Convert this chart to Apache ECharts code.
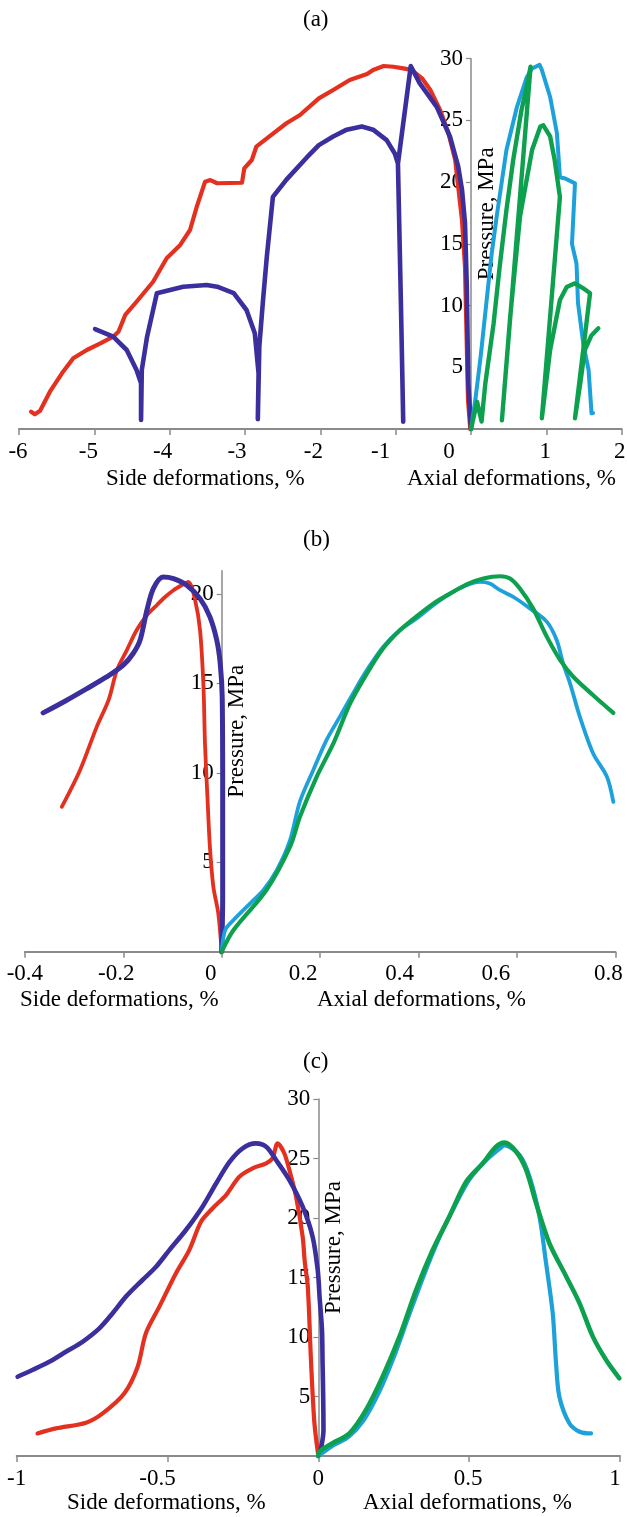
<!DOCTYPE html>
<html>
<head>
<meta charset="utf-8">
<script src="https://cdn.jsdelivr.net/npm/echarts@6/dist/echarts.min.js"></script>
<style>html,body{margin:0;padding:0;background:#fff}#c{width:627px;height:1517px}</style>
</head>
<body>
<div id="c"></div>
<script>
// ---------- DATA ----------
// Panel (a)
const aSideRed = [[-0.01,0],[-0.04,2.35],[-0.06,7.78],[-0.08,13.15],[-0.12,16.93],[-0.17,19.63],[-0.21,21.79],[-0.30,23.96],[-0.41,25.84],[-0.54,27.47],[-0.65,28.41],[-0.79,29.09],[-0.90,29.22],[-1.03,29.35],[-1.16,29.41],[-1.30,29.09],[-1.38,28.76],[-1.61,28.28],[-1.83,27.47],[-2.02,26.79],[-2.27,25.44],[-2.45,24.77],[-2.71,23.55],[-2.85,22.87],[-2.91,21.79],[-3.01,21.12],[-3.04,19.95],[-3.37,19.91],[-3.46,20.17],[-3.53,20.04],[-3.64,18.01],[-3.73,16.12],[-3.86,14.91],[-4.04,13.83],[-4.22,11.93],[-4.44,10.31],[-4.59,9.24],[-4.68,7.88],[-4.75,7.48],[-4.92,6.94],[-5.10,6.40],[-5.28,5.73],[-5.43,4.51],[-5.59,3.02],[-5.72,1.48],[-5.79,1.19],[-5.84,1.40]];
const aSideBlue = [[0,0],[-0.036,3.7],[-0.057,11.8],[-0.08,16.7],[-0.12,19.4],[-0.17,21.25],[-0.28,23.7],[-0.455,26.1],[-0.68,28.0],[-0.80,29.4],[-0.97,21.5],[-0.93,10],[-0.90,0.6],[-0.93,10],[-0.97,21.5],[-1.01,22.3],[-1.12,23.4],[-1.30,24.25],[-1.45,24.5],[-1.65,24.25],[-1.83,23.7],[-2.02,23.0],[-2.18,22.0],[-2.45,20.2],[-2.63,18.8],[-2.71,14],[-2.76,10.5],[-2.81,6.7],[-2.83,0.8],[-2.82,4.5],[-2.87,7.75],[-2.98,9.64],[-3.15,11.0],[-3.37,11.53],[-3.51,11.67],[-3.82,11.53],[-4.17,11.0],[-4.30,7.48],[-4.37,4.78],[-4.38,0.73],[-4.38,3.7],[-4.44,4.78],[-4.57,6.4],[-4.75,7.48],[-4.99,8.1]];
const aAxialLightBlue = [[0,0],[0.06,2.5],[0.13,6],[0.2,10],[0.27,14],[0.34,17.2],[0.47,22.6],[0.61,26.1],[0.74,28.5],[0.81,29.2],[0.91,29.5],[0.94,29.1],[1.05,26.9],[1.14,23.96],[1.18,20.4],[1.25,20.3],[1.38,19.9],[1.34,15.0],[1.40,13.4],[1.42,10.2],[1.49,6.9],[1.56,4.8],[1.60,1.27],[1.62,1.3]];
const aAxialGreen = [[0,0],[0.08,2.2],[0.14,0.6],[0.19,3.7],[0.30,8.56],[0.38,13.15],[0.47,17.74],[0.56,21.8],[0.67,25.85],[0.74,27.7],[0.79,29.35],[0.41,0.7],[0.52,9.1],[0.65,17.2],[0.81,22.6],[0.92,24.5],[0.96,24.6],[1.05,23.7],[1.11,21.8],[1.18,18.8],[0.94,0.87],[1.05,6.4],[1.18,10.45],[1.27,11.5],[1.38,11.8],[1.49,11.4],[1.58,11.0],[1.38,0.87],[1.45,3.7],[1.51,6.4],[1.60,7.6],[1.69,8.16]];

// Panel (b)
const bSideRed = [[0,0],[-0.007,2.15],[-0.017,3.63],[-0.024,5.87],[-0.029,8.66],[-0.034,11.64],[-0.037,14.8],[-0.044,17.97],[-0.054,19.65],[-0.068,20.67],[-0.081,20.49],[-0.098,20.21],[-0.115,19.83],[-0.132,19.37],[-0.152,18.81],[-0.173,17.97],[-0.193,16.85],[-0.213,15.74],[-0.23,14.06],[-0.254,12.57],[-0.288,10.15],[-0.325,8.1]];
const bSideBlue = [[0,0],[0.002,3.07],[0.002,9],[0.001,14.25],[-0.003,16.11],[-0.01,17.41],[-0.024,18.72],[-0.044,19.74],[-0.071,20.49],[-0.098,20.86],[-0.119,20.95],[-0.139,20.3],[-0.152,19.09],[-0.166,17.41],[-0.18,16.67],[-0.2,16.02],[-0.234,15.36],[-0.274,14.71],[-0.315,14.06],[-0.363,13.35]];
const bAxialLightBlue = [[0,0],[0.007,1.21],[0.024,1.77],[0.058,2.7],[0.085,3.45],[0.112,4.56],[0.139,6.24],[0.159,8.4],[0.186,10.15],[0.213,11.83],[0.24,13.13],[0.267,14.44],[0.295,15.74],[0.328,17.04],[0.362,17.97],[0.396,18.63],[0.43,19.37],[0.464,20.02],[0.498,20.49],[0.525,20.67],[0.545,20.58],[0.566,20.21],[0.593,19.83],[0.627,19.18],[0.661,18.44],[0.681,17.41],[0.694,16.11],[0.708,15.0],[0.728,13.13],[0.755,11.08],[0.783,9.78],[0.796,8.38]];
const bAxialGreen = [[0,0],[0.024,1.21],[0.091,3.45],[0.139,5.87],[0.159,7.54],[0.193,9.78],[0.227,11.64],[0.261,13.88],[0.295,15.55],[0.328,16.95],[0.362,17.97],[0.396,18.75],[0.43,19.46],[0.464,20.02],[0.498,20.54],[0.532,20.86],[0.566,20.99],[0.586,20.86],[0.606,20.3],[0.633,19.18],[0.661,17.6],[0.688,16.3],[0.715,15.36],[0.755,14.34],[0.796,13.35]];

// Panel (c)
const cSideRed = [[0,0],[-0.013,2.75],[-0.024,7.79],[-0.035,14.23],[-0.045,16.3],[-0.052,18.43],[-0.074,21.79],[-0.096,24.03],[-0.113,25.44],[-0.135,26.27],[-0.152,25.02],[-0.173,24.6],[-0.218,24.18],[-0.262,23.47],[-0.306,21.93],[-0.351,20.8],[-0.389,19.69],[-0.428,17.3],[-0.472,15.35],[-0.527,12.55],[-0.572,10.3],[-0.599,7.5],[-0.643,5.27],[-0.715,3.58],[-0.77,2.8],[-0.87,2.32],[-0.931,1.9]];
const cSideBlue = [[0,0],[0.01,0.8],[0.017,2.2],[0.016,5],[0.014,7.8],[0.012,10.6],[0.004,13.4],[-0.002,15.6],[-0.019,18.43],[-0.052,20.95],[-0.096,23.19],[-0.14,24.87],[-0.173,25.99],[-0.207,26.27],[-0.251,25.86],[-0.295,24.7],[-0.339,22.9],[-0.384,20.95],[-0.439,18.99],[-0.494,17.3],[-0.538,15.9],[-0.583,14.79],[-0.638,13.39],[-0.682,11.99],[-0.726,10.73],[-0.782,9.6],[-0.837,8.76],[-0.892,7.92],[-0.948,7.23],[-0.997,6.66]];
const cAxialLightBlue = [[0,0],[0.05,0.9],[0.1,1.6],[0.15,3.0],[0.2,5.3],[0.25,8.3],[0.3,11.8],[0.35,15.2],[0.4,18.3],[0.45,20.9],[0.5,23.2],[0.55,24.7],[0.6,25.8],[0.617,26.1],[0.667,25.29],[0.7,23.47],[0.733,20.11],[0.755,16.19],[0.777,11.99],[0.788,7.79],[0.799,4.98],[0.832,2.75],[0.866,2.04],[0.904,1.9]];
const cAxialGreen = [[0,0],[0.003,0.36],[0.047,1.07],[0.103,1.9],[0.158,3.87],[0.213,6.66],[0.269,10.03],[0.324,13.95],[0.379,17.31],[0.434,20.11],[0.49,23.05],[0.545,24.6],[0.589,25.99],[0.617,26.33],[0.656,25.57],[0.689,24.03],[0.722,21.23],[0.766,17.87],[0.822,15.07],[0.866,12.83],[0.91,10.03],[0.954,8.07],[0.998,6.53]];

// axis ranges / tick labels
const panelTitles = ['(a)', '(b)', '(c)'];
const xRanges = [[-6, 2, 1], [-0.4, 0.8, 0.2], [-1, 1, 0.5]];
const yMaxes = [30, 21.3, 30];
const yTickValues = [[5,10,15,20,25,30],[5,10,15,20],[5,10,15,20,25,30]];
const sideName = 'Side deformations, %';
const axialName = 'Axial deformations, %';
const yName = 'Pressure, MPa';

// ---------- STYLE ----------
const FONT = 'Liberation Serif';
const FS = 23;
const AXIS_COLOR = '#8a8a8a';
const C_RED = '#E3301F', C_BLUE = '#3A2F9C', C_LBLUE = '#1DA1DA', C_GREEN = '#0DA04E';
const W = 627;
const grids = [
  {left: 19, right: 5.3, top: 58.7, height: 370.3},
  {left: 24.9, right: 11.7, top: 570.7, height: 381},
  {left: 16.7, right: 7, top: 1099, height: 357}
];
// horizontal label nudges (px) reproducing the reference label placement
const labelShift = [
  {'-6':-1,'-5':-6,'-4':-7,'-3':-8,'-2':-7,'-1':-15,'0':-22,'1':-1,'2':-2},
  {'-0.4':0,'-0.2':-7,'0':-11,'0.2':-17,'0.4':-19,'0.6':-21,'0.8':-7},
  {'-1':0,'-0.5':-10,'0':0,'0.5':-1,'1':-5}
];
const titleTops = [8, 528, 1050];
const nameTops = [467, 988, 1491];
const sideLefts = [106, 20, 67];
const axialLefts = [407, 317, 363];

function fmt(v){ return String(parseFloat(Number(v).toFixed(2))); }

const gridOpt = [], xAxes = [], yAxes = [], titles = [];
for (let i = 0; i < 3; i++) {
  const g = grids[i];
  gridOpt.push({left: g.left, right: g.right, top: g.top, height: g.height,
    containLabel: false, outerBoundsMode: 'none'});
  const keys = Object.keys(labelShift[i]);
  const rich = {};
  keys.forEach((k, j) => {
    const s = labelShift[i][k];
    rich['s' + j] = {fontFamily: FONT, fontSize: FS, color: '#000',
      padding: [0, s < 0 ? -2*s : 0, 0, s > 0 ? 2*s : 0]};
  });
  xAxes.push({
    type: 'value', gridIndex: i, min: xRanges[i][0], max: xRanges[i][1], interval: xRanges[i][2],
    axisLine: {show: true, onZero: false, lineStyle: {color: AXIS_COLOR, width: 2}},
    axisTick: {show: true, length: 6, lineStyle: {color: AXIS_COLOR, width: 1.5}},
    splitLine: {show: false},
    axisLabel: {margin: 11, fontFamily: FONT, fontSize: FS, color: '#000', rich: rich,
      formatter: function(v){ const k = fmt(v); const j = keys.indexOf(k); return j < 0 ? k : '{s' + j + '|' + k + '}'; }}
  });
  // place the pressure axis at zero side deformation
  const gridW = W - g.left - g.right;
  const zeroOffset = (0 - xRanges[i][0]) / (xRanges[i][1] - xRanges[i][0]) * gridW;
  yAxes.push({
    type: 'value', gridIndex: i, min: 0, max: yMaxes[i], interval: 5, position: 'left',
    offset: -zeroOffset,
    axisLine: {show: true, onZero: false, lineStyle: {color: AXIS_COLOR, width: 1.5}},
    axisTick: {show: true, length: 5, customValues: yTickValues[i], lineStyle: {color: AXIS_COLOR, width: 1.2}},
    splitLine: {show: false},
    axisLabel: {margin: 8, fontFamily: FONT, fontSize: FS, color: '#000', customValues: yTickValues[i]},
    name: yName, nameLocation: 'middle', nameGap: -27, nameMoveOverlap: false,
    nameTextStyle: {fontFamily: FONT, fontSize: FS, color: '#000', padding: [0, 0, 0, 60]}
  });
  const ts = {fontFamily: FONT, fontSize: FS, color: '#000', fontWeight: 'normal'};
  titles.push({text: panelTitles[i], left: 303, top: titleTops[i], padding: 0, textStyle: ts});
  titles.push({text: sideName, left: sideLefts[i], top: nameTops[i], padding: 0, textStyle: ts});
  titles.push({text: axialName, left: axialLefts[i], top: nameTops[i], padding: 0, textStyle: ts});
}

function line(i, data, color, width, smooth, z) {
  return {type: 'line', xAxisIndex: i, yAxisIndex: i, data: data, showSymbol: false, symbol: 'none',
    smooth: smooth, z: z, clip: false,
    lineStyle: {color: color, width: width, cap: 'round', join: 'round'}};
}

const series = [
  line(0, aSideRed, C_RED, 4.2, false, 2),
  line(0, aSideBlue, C_BLUE, 4.6, false, 3),
  line(0, aAxialLightBlue, C_LBLUE, 4.0, false, 4),
  line(0, aAxialGreen, C_GREEN, 4.4, false, 5),
  line(1, bSideRed, C_RED, 3.8, 0.3, 2),
  line(1, bSideBlue, C_BLUE, 5.0, 0.3, 3),
  line(1, bAxialLightBlue, C_LBLUE, 3.8, 0.3, 4),
  line(1, bAxialGreen, C_GREEN, 4.2, 0.3, 5),
  line(2, cSideRed, C_RED, 4.2, 0.3, 2),
  line(2, cSideBlue, C_BLUE, 4.6, 0.3, 3),
  line(2, cAxialLightBlue, C_LBLUE, 4.2, 0.3, 4),
  line(2, cAxialGreen, C_GREEN, 4.6, 0.3, 5)
];

const chart = echarts.init(document.getElementById('c'), null, {renderer: 'canvas', width: 627, height: 1517});
chart.setOption({
  animation: false,
  backgroundColor: '#fff',
  title: titles,
  grid: gridOpt,
  xAxis: xAxes,
  yAxis: yAxes,
  series: series
});
</script>
</body>
</html>
